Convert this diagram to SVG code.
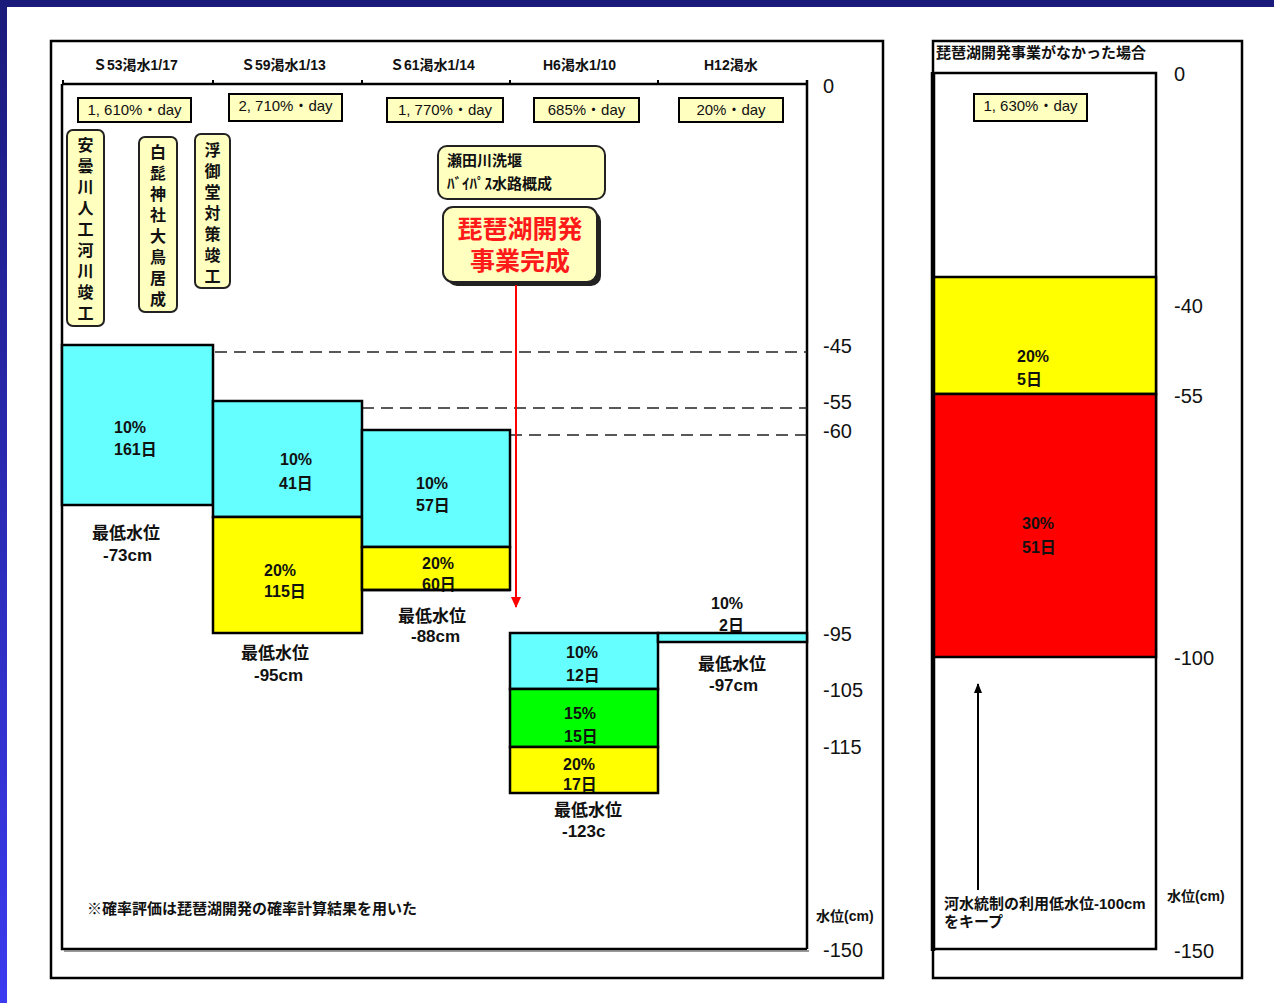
<svg xmlns="http://www.w3.org/2000/svg" width="1274" height="1003" viewBox="0 0 1274 1003">
<defs>
<linearGradient id="edge" x1="0" y1="0" x2="0" y2="1">
<stop offset="0" stop-color="#1a1a7a"/>
<stop offset="1" stop-color="#3b3bf0"/>
</linearGradient>
<marker id="blkArrow" markerWidth="10" markerHeight="10" refX="9" refY="5" orient="auto" markerUnits="userSpaceOnUse" viewBox="0 0 10 10">
<path d="M0,1 L10,5 L0,9 Z" fill="#000"/>
</marker>
<marker id="redHead" markerWidth="12" markerHeight="12" refX="10" refY="5" orient="auto" markerUnits="userSpaceOnUse" viewBox="0 0 12 10">
<path d="M0,0 L11,5 L0,10 Z" fill="#ff0000"/>
</marker>
</defs>
<style>
text{font-family:"Liberation Sans","Noto Sans CJK JP",sans-serif;fill:#111;}
.b{font-weight:bold;}
.hdr{font-size:14px;font-weight:bold;}
.day{font-size:15px;}
.in{font-size:16px;font-weight:bold;}
.ax{font-size:20px;}
.lbl{font-size:17px;font-weight:bold;}
.sm{font-size:14px;font-weight:bold;}
.note{font-size:15px;font-weight:bold;}
.frame{fill:none;stroke:#000;stroke-width:2.5;}
.ybox{fill:#ffffc0;stroke:#000;stroke-width:2;}
.rbox{fill:#ffffc0;stroke:#222;stroke-width:2;}
.cy{fill:#66ffff;stroke:#000;stroke-width:2.5;}
.ye{fill:#ffff00;stroke:#000;stroke-width:2.5;}
.gr{fill:#00ff00;stroke:#000;stroke-width:2.5;}
.rd{fill:#ff0000;stroke:#000;stroke-width:2.5;}
.dash{stroke:#222;stroke-width:1.5;stroke-dasharray:12,7;fill:none;}
.vt{font-size:16px;font-weight:bold;text-anchor:middle;}
</style>
<rect x="0" y="0" width="1274" height="1003" fill="#ffffff"/>
<rect x="0" y="0" width="1274" height="7" fill="#1a1a7a"/>
<rect x="0" y="0" width="7" height="1003" fill="url(#edge)"/>

<g id="left-panel">
<rect class="frame" x="51" y="41" width="832" height="937"/>
<g id="axis-frame">
<path d="M63,80 V84 M213,80 V84 M362,80 V84 M510,80 V84 M658,80 V84" stroke="#000" stroke-width="2" fill="none"/>
<path d="M62,84 H807" stroke="#000" stroke-width="2.5"/>
<path d="M807,80 V949" stroke="#000" stroke-width="2.5"/>
<path d="M62,84 V949 H807" stroke="#000" stroke-width="2.5" fill="none"/>
<path d="M64,951 H809" stroke="#777" stroke-width="1.5"/>
</g>
<g id="headers">
<text class="hdr" x="93" y="70">Ｓ53渇水1/17</text>
<text class="hdr" x="241" y="70">Ｓ59渇水1/13</text>
<text class="hdr" x="390" y="70">Ｓ61渇水1/14</text>
<text class="hdr" x="543" y="70">H6渇水1/10</text>
<text class="hdr" x="704" y="70">H12渇水</text>
</g>
<g id="day-labels">
<g id="day-s53"><rect class="ybox" x="78" y="98" width="113" height="24"/><text class="day" x="134.5" y="115" text-anchor="middle">1, 610%・day</text></g>
<g id="day-s59"><rect class="ybox" x="229" y="94" width="113" height="27"/><text class="day" x="285.5" y="111" text-anchor="middle">2, 710%・day</text></g>
<g id="day-s61"><rect class="ybox" x="387" y="98" width="116" height="24"/><text class="day" x="445" y="115" text-anchor="middle">1, 770%・day</text></g>
<g id="day-h6"><rect class="ybox" x="534" y="98" width="105" height="24"/><text class="day" x="586.5" y="115" text-anchor="middle">685%・day</text></g>
<g id="day-h12"><rect class="ybox" x="679" y="98" width="104" height="24"/><text class="day" x="731" y="115" text-anchor="middle">20%・day</text></g>
</g>
<g id="event-adogawa">
<rect class="rbox" x="67" y="130" width="37" height="196" rx="6"/>
<text class="vt" x="85.5" y="151"><tspan x="85.5">安</tspan><tspan x="85.5" dy="21">曇</tspan><tspan x="85.5" dy="21">川</tspan><tspan x="85.5" dy="21">人</tspan><tspan x="85.5" dy="21">工</tspan><tspan x="85.5" dy="21">河</tspan><tspan x="85.5" dy="21">川</tspan><tspan x="85.5" dy="21">竣</tspan><tspan x="85.5" dy="21">工</tspan></text>
</g>
<g id="event-shirahige">
<rect class="rbox" x="139" y="137" width="38" height="175" rx="6"/>
<text class="vt" x="158" y="158"><tspan x="158">白</tspan><tspan x="158" dy="21">髭</tspan><tspan x="158" dy="21">神</tspan><tspan x="158" dy="21">社</tspan><tspan x="158" dy="21">大</tspan><tspan x="158" dy="21">鳥</tspan><tspan x="158" dy="21">居</tspan><tspan x="158" dy="21">成</tspan></text>
</g>
<g id="event-ukimido">
<rect class="rbox" x="195" y="134" width="35" height="154" rx="6"/>
<text class="vt" x="212.5" y="156"><tspan x="212.5">浮</tspan><tspan x="212.5" dy="21">御</tspan><tspan x="212.5" dy="21">堂</tspan><tspan x="212.5" dy="21">対</tspan><tspan x="212.5" dy="21">策</tspan><tspan x="212.5" dy="21">竣</tspan><tspan x="212.5" dy="21">工</tspan></text>
</g>
<g id="event-seta">
<rect class="rbox" x="438" y="146" width="167" height="53" rx="9"/>
<text class="b" x="447" y="166" font-size="15">瀬田川洗堰</text>
<text class="b" x="447" y="189" font-size="15">ﾊﾞｲﾊﾟｽ水路概成</text>
</g>
<g id="event-complete">
<rect x="447" y="211" width="154" height="75" rx="10" fill="#222"/>
<rect class="rbox" x="443" y="207" width="154" height="75" rx="10"/>
<text class="b" x="520" y="238" font-size="25" text-anchor="middle" style="fill:#ff1a1a">琵琶湖開発</text>
<text class="b" x="520" y="270" font-size="25" text-anchor="middle" style="fill:#ff1a1a">事業完成</text>
</g>

<g id="connectors">
<path class="dash" d="M215,352 H807"/>
<path class="dash" d="M362,408 H807"/>
<path class="dash" d="M510,435 H807"/>
<path d="M516,285 V607" stroke="#ff0000" stroke-width="2" marker-end="url(#redHead)"/>
</g>

<g id="bar-s53">
<rect class="cy" x="62" y="345" width="151" height="160"/>
<text class="in" x="114" y="433">10%</text>
<text class="in" x="114" y="455">161日</text>
<text class="lbl" x="92" y="539">最低水位</text>
<text class="lbl" x="103" y="561">-73cm</text>
</g>
<g id="bar-s59">
<rect class="cy" x="213" y="401" width="149" height="116"/>
<rect class="ye" x="213" y="517" width="149" height="116"/>
<text class="in" x="280" y="465">10%</text>
<text class="in" x="279" y="489">41日</text>
<text class="in" x="264" y="576">20%</text>
<text class="in" x="264" y="597">115日</text>
<text class="lbl" x="241" y="659">最低水位</text>
<text class="lbl" x="254" y="681">-95cm</text>
</g>
<g id="bar-s61">
<rect class="cy" x="362" y="430" width="148" height="117"/>
<rect class="ye" x="362" y="547" width="148" height="43"/>
<text class="in" x="416" y="489">10%</text>
<text class="in" x="416" y="511">57日</text>
<text class="in" x="422" y="569">20%</text>
<text class="in" x="422" y="590">60日</text>
<path d="M362,590 H510" stroke="#000" stroke-width="2.5"/>
<text class="lbl" x="398" y="622">最低水位</text>
<text class="lbl" x="411" y="642">-88cm</text>
</g>
<g id="bar-h6">
<rect class="cy" x="510" y="633" width="148" height="56"/>
<rect class="gr" x="510" y="689" width="148" height="58"/>
<rect class="ye" x="510" y="747" width="148" height="46"/>
<text class="in" x="566" y="658">10%</text>
<text class="in" x="566" y="681">12日</text>
<text class="in" x="564" y="719">15%</text>
<text class="in" x="564" y="742">15日</text>
<text class="in" x="563" y="770">20%</text>
<text class="in" x="563" y="790">17日</text>
<text class="lbl" x="554" y="816">最低水位</text>
<text class="lbl" x="562" y="837">-123c</text>
</g>
<g id="bar-h12">
<rect class="cy" x="658" y="633" width="149" height="9"/>
<text class="in" x="711" y="609">10%</text>
<text class="in" x="719" y="631">2日</text>
<text class="lbl" x="698" y="670">最低水位</text>
<text class="lbl" x="709" y="691">-97cm</text>
</g>
<g id="axis-labels">
<text class="ax" x="823" y="93">0</text>
<text class="ax" x="823" y="353">-45</text>
<text class="ax" x="823" y="409">-55</text>
<text class="ax" x="823" y="438">-60</text>
<text class="ax" x="823" y="641">-95</text>
<text class="ax" x="823" y="697">-105</text>
<text class="ax" x="823" y="754">-115</text>
<text class="sm" x="816" y="921">水位(cm)</text>
<text class="ax" x="823" y="957">-150</text>
</g>
<text class="note" x="87" y="914">※確率評価は琵琶湖開発の確率計算結果を用いた</text>
</g>

<g id="right-panel">
<rect class="frame" x="933" y="41" width="309" height="937"/>
<text class="b" x="936" y="58" font-size="15">琵琶湖開発事業がなかった場合</text>
<path d="M933,73 H1156 V949 H933" stroke="#000" stroke-width="2.5" fill="none"/>
<rect class="ye" x="933" y="277" width="223" height="117"/>
<rect class="rd" x="933" y="394" width="223" height="263"/>
<path d="M933,72 V951" stroke="#000" stroke-width="4.5"/>
<g id="day-none"><rect class="ybox" x="974" y="94" width="113" height="27"/><text class="day" x="1030.5" y="111" text-anchor="middle">1, 630%・day</text></g>
<text class="in" x="1017" y="362">20%</text>
<text class="in" x="1017" y="385">5日</text>
<text class="in" x="1022" y="529">30%</text>
<text class="in" x="1022" y="553">51日</text>
<g id="keep-arrow"><path d="M978,890 V684" stroke="#000" stroke-width="2" marker-end="url(#blkArrow)"/></g>
<text class="note" x="944" y="909" font-size="14.5">河水統制の利用低水位-100cm</text>
<text class="note" x="944" y="927" font-size="14.5">をキープ</text>
<text class="ax" x="1174" y="81">0</text>
<text class="ax" x="1174" y="313">-40</text>
<text class="ax" x="1174" y="403">-55</text>
<text class="ax" x="1174" y="665">-100</text>
<text class="sm" x="1167" y="901">水位(cm)</text>
<text class="ax" x="1174" y="958">-150</text>
</g>
</svg>
